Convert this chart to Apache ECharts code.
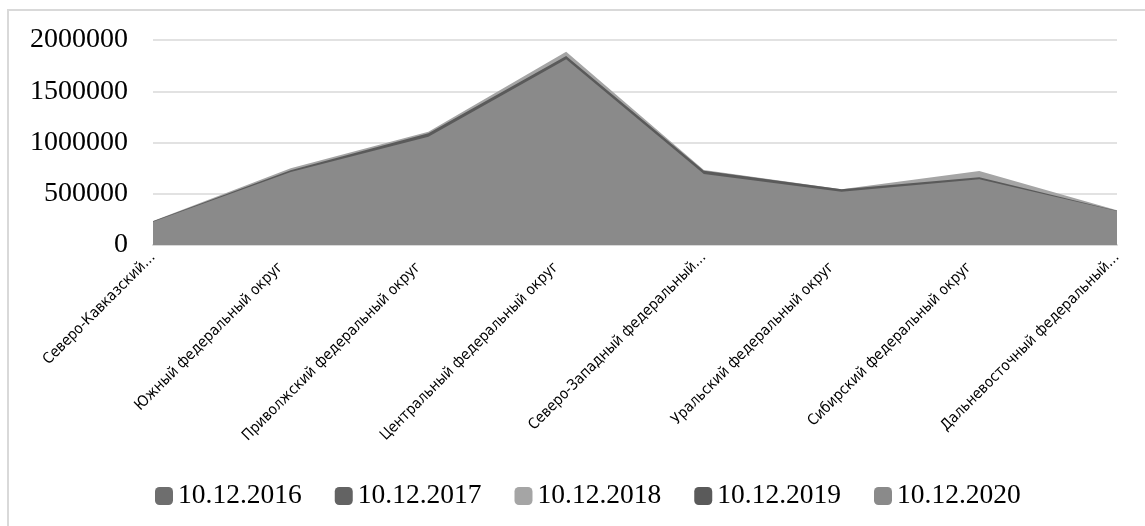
<!DOCTYPE html>
<html>
<head>
<meta charset="utf-8">
<script src="https://cdn.jsdelivr.net/npm/echarts@6/dist/echarts.min.js"></script>
<style>
html,body{margin:0;padding:0;background:#fff;}
#chart{width:1145px;height:526px;}
</style>
</head>
<body>
<div id="chart"></div>
<script>
const categories = [
  'Северо-Кавказский…',
  'Южный федеральный округ',
  'Приволжский федеральный округ',
  'Центральный федеральный округ',
  'Северо-Западный федеральный…',
  'Уральский федеральный округ',
  'Сибирский федеральный округ',
  'Дальневосточный федеральный…'
];
const seriesNames = ['10.12.2016', '10.12.2017', '10.12.2018', '10.12.2019', '10.12.2020'];
const values2016 = [228, 722, 1080, 1830, 712, 535, 650, 333].map(v => v * 1000);
const values2017 = [230, 726, 1085, 1838, 718, 540, 655, 334].map(v => v * 1000);
const values2018 = [235, 748, 1105, 1886, 732, 545, 722, 338].map(v => v * 1000);
const values2019 = [232, 730, 1090, 1844, 725, 543, 660, 335].map(v => v * 1000);
const values2020 = [227, 712, 1057, 1812, 693, 520, 641, 332].map(v => v * 1000);
const yTicks = [0, 500000, 1000000, 1500000, 2000000];

const colors = ['#6e6e6e', '#636363', '#a5a5a5', '#5a5a5a', '#8a8a8a'];
const allValues = [values2016, values2017, values2018, values2019, values2020];
const truncated = new Set([0, 4, 7]);

const chart = echarts.init(document.getElementById('chart'), null, {renderer: 'canvas'});
chart.setOption({
  animation: false,
  backgroundColor: '#ffffff',
  color: colors,
  graphic: [{
    type: 'rect',
    shape: {x: 8, y: 10, width: 1160, height: 540},
    style: {fill: 'none', stroke: '#d9d9d9', lineWidth: 2},
    silent: true,
    z: -1
  }],
  grid: {left: 153, right: 28, top: 40, bottom: 281, containLabel: false},
  legend: {
    left: 155,
    top: 482,
    padding: 0,
    itemWidth: 18,
    itemHeight: 18,
    itemGap: 33,
    icon: 'roundRect',
    textStyle: {fontFamily: 'Liberation Serif', fontSize: 27.5, color: '#000', padding: [2, 0, 0, 0]},
    data: seriesNames
  },
  xAxis: {
    type: 'category',
    boundaryGap: false,
    data: categories.map((c, i) => truncated.has(i)
      ? {value: c, textStyle: {padding: [0, 0, 0, 0]}}
      : {value: c, textStyle: {padding: [0, 14, 0, 0]}}),
    axisLine: {show: true, lineStyle: {color: '#d9d9d9', width: 2}},
    axisTick: {show: false},
    splitLine: {show: false},
    axisLabel: {
      rotate: 45,
      interval: 0,
      margin: 10,
      fontFamily: 'DejaVu Sans Condensed',
      fontSize: 15,
      color: '#000'
    }
  },
  yAxis: {
    type: 'value',
    min: yTicks[0],
    max: yTicks[yTicks.length - 1],
    interval: 500000,
    axisLine: {show: false},
    axisTick: {show: false},
    splitLine: {lineStyle: {color: '#d9d9d9', width: 1.5}},
    axisLabel: {
      margin: 25,
      fontFamily: 'Liberation Serif',
      fontSize: 28,
      color: '#000',
      formatter: v => String(v)
    }
  },
  series: seriesNames.map((n, i) => ({
    name: n,
    type: 'line',
    data: allValues[i],
    symbol: 'none',
    lineStyle: {width: 0},
    areaStyle: {color: colors[i], opacity: 1},
    itemStyle: {color: colors[i]}
  }))
});
</script>
</body>
</html>
